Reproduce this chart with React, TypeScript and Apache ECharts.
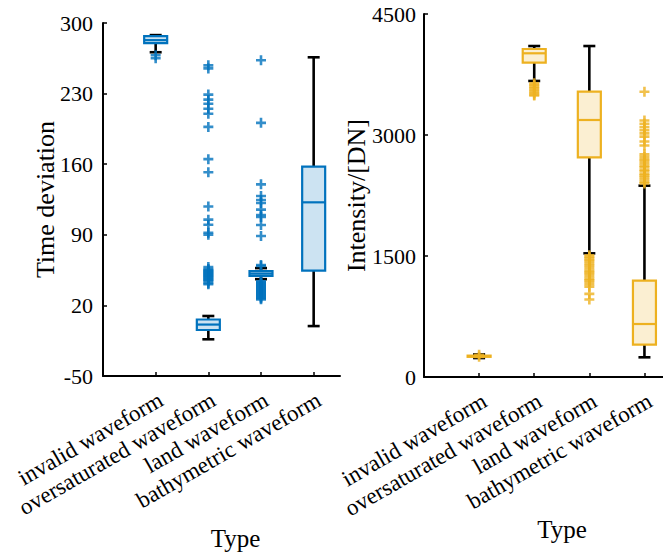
import React, { useEffect, useRef } from "react";
import * as echarts from "echarts";

const categories = ["invalid waveform", "oversaturated waveform", "land waveform", "bathymetric waveform"];
const timeTicks = [-50, 20, 90, 160, 230, 300];
const intensityTicks = [0, 1500, 3000, 4500];

// [min, Q1, median, Q3, max]
const timeStats = [
  [271, 280, 283, 287, 288],
  [-13.6, -4.4, 1, 6, 9.5],
  [46, 49.2, 51.5, 54, 57],
  [-0.5, 54.4, 122.2, 157.5, 266],
];
const intensityStats = [
  [235, 250, 258, 265, 280],
  [3670, 3897, 4013, 4066, 4103],
  [1533, 2723, 3186, 3537, 4103],
  [244, 401, 657, 1194, 2372],
];

const timeOutInvalid = [268, 265];
const timeOutOversat = [258, 255, 229, 224, 220, 215, 210, 197, 165, 152, 118, 105, 100, 92, 90, 58, 56, 55, 54, 53, 52, 51, 50, 49, 48, 47, 46, 45, 44, 42, 41];
const timeOutLand = [263, 201, 140, 128.5, 124.5, 121.5, 115, 109.6, 107.6, 99.7, 88.8, 60, 59, 44, 43, 42, 41, 40, 39, 38, 37, 36, 35, 34, 33, 32, 31, 30, 29, 28, 27, 26];
const timeOutBathy: number[] = [];

const intOutInvalid = [275, 250];
const intOutOversat = [3640, 3620, 3600, 3580, 3560, 3540, 3520, 3500, 3490];
const intOutLand = [1510, 1490, 1470, 1450, 1430, 1400, 1380, 1350, 1320, 1300, 1280, 1250, 1220, 1200, 1180, 1150, 1120, 1030, 960];
const intOutBathy = [3537, 3180, 3140, 3100, 3060, 3020, 2980, 2920, 2870, 2760, 2730, 2700, 2680, 2650, 2620, 2600, 2570, 2550, 2520, 2500, 2480, 2450, 2420, 2400];

const BLUE = "#0072BD";
const BLUE_FILL = "rgb(204,227,242)";
const YELLOW = "#EDB120";
const YELLOW_FILL = "rgb(251,239,210)";
const FONT = "'Liberation Serif', 'Times New Roman', serif";

const toOutlierData = (lists: number[][]) => {
  const out: number[][] = [];
  lists.forEach((l, i) => l.forEach((v) => out.push([i + 1, v])));
  return out;
};

const renderBox = (color: string, fill: string) => (params: any, api: any) => {
  const x = api.value(0);
  const mn = api.value(1), q1 = api.value(2), md = api.value(3), q3 = api.value(4), mx = api.value(5);
  const pMin = api.coord([x, mn]);
  const pQ1 = api.coord([x, q1]);
  const pMd = api.coord([x, md]);
  const pQ3 = api.coord([x, q3]);
  const pMax = api.coord([x, mx]);
  const cx = pMin[0];
  const bw = 23, cw = 12;
  const blk = { stroke: "#000", lineWidth: 2.6 };
  return {
    type: "group",
    children: [
      { type: "line", shape: { x1: cx, y1: pMax[1], x2: cx, y2: pQ3[1] }, style: blk },
      { type: "line", shape: { x1: cx, y1: pQ1[1], x2: cx, y2: pMin[1] }, style: blk },
      { type: "line", shape: { x1: cx - cw / 2, y1: pMax[1], x2: cx + cw / 2, y2: pMax[1] }, style: blk },
      { type: "line", shape: { x1: cx - cw / 2, y1: pMin[1], x2: cx + cw / 2, y2: pMin[1] }, style: blk },
      {
        type: "rect",
        shape: { x: cx - bw / 2, y: pQ3[1], width: bw, height: pQ1[1] - pQ3[1] },
        style: { fill, stroke: color, lineWidth: 2.2 },
      },
      { type: "line", shape: { x1: cx - bw / 2, y1: pMd[1], x2: cx + bw / 2, y2: pMd[1] }, style: { stroke: color, lineWidth: 2.2 } },
    ],
  };
};

const PLUS = "path://M0,5L10,5M5,0L5,10";

export default function App() {
  const ref = useRef<HTMLDivElement>(null);
  useEffect(() => {
    document.body.style.margin = "0";
    const chart = echarts.init(ref.current!, undefined, { renderer: "svg" });
    const xAxisCommon = (nameGap: number) => ({
      type: "value",
      min: 0,
      max: 4.5,
      name: "Type",
      nameLocation: "middle",
      nameGap,
      nameMoveOverlap: false,
      nameTextStyle: { fontFamily: FONT, fontSize: 25, color: "#000", padding: [0, 0, 0, 28] },
      axisLine: { onZero: false, lineStyle: { color: "#000", width: 2 } },
      axisTick: { inside: true, length: 4, customValues: [1, 2, 3, 4], lineStyle: { color: "#000", width: 1.5 } },
      axisLabel: {
        customValues: [1.1, 2.1, 3.1, 4.1],
        formatter: (v: number) => categories[Math.round(v) - 1] ?? "",
        rotate: 30,
        margin: 22,
        fontFamily: FONT,
        fontSize: 23,
        color: "#000",
      },
      splitLine: { show: false },
    });
    const yAxisCommon = (name: string, nameGap: number, min: number, max: number, ticks: number[], margin: number) => ({
      type: "value",
      min,
      max,
      name,
      nameLocation: "middle",
      nameGap,
      nameMoveOverlap: false,
      nameTextStyle: { fontFamily: FONT, fontSize: 26, color: "#000" },
      axisLine: { show: true, onZero: false, lineStyle: { color: "#000", width: 2 } },
      axisTick: { show: true, inside: true, length: 4, customValues: ticks, lineStyle: { color: "#000", width: 1.5 } },
      axisLabel: {
        customValues: ticks,
        formatter: (v: number) => String(v),
        margin,
        fontFamily: FONT,
        fontSize: 22,
        color: "#000",
      },
      splitLine: { show: false },
    });
    chart.setOption({
      animation: false,
      backgroundColor: "#fff",
      grid: [
        { left: 103, top: 23, width: 237, height: 353, outerBoundsMode: "none" },
        { left: 424, top: 14, width: 248, height: 363, outerBoundsMode: "none" },
      ],
      xAxis: [
        { ...xAxisCommon(150), gridIndex: 0 },
        { ...xAxisCommon(140), gridIndex: 1 },
      ],
      yAxis: [
        { ...yAxisCommon("Time deviation", 45, -50, 300, timeTicks, 10), gridIndex: 0 },
        { ...yAxisCommon("Intensity/[DN]", 55, 0, 4500, intensityTicks, 8), gridIndex: 1 },
      ],
      series: [
        {
          type: "custom",
          xAxisIndex: 0,
          yAxisIndex: 0,
          renderItem: renderBox(BLUE, BLUE_FILL),
          encode: { x: 0, y: [1, 2, 3, 4, 5] },
          data: timeStats.map((s, i) => [i + 1, ...s]),
          silent: true,
        },
        {
          type: "scatter",
          xAxisIndex: 0,
          yAxisIndex: 0,
          symbol: PLUS,
          symbolSize: 10,
          itemStyle: { color: "none", borderColor: BLUE, borderWidth: 2.6 },
          data: toOutlierData([timeOutInvalid, timeOutOversat, timeOutLand, timeOutBathy]),
          silent: true,
        },
        {
          type: "custom",
          xAxisIndex: 1,
          yAxisIndex: 1,
          renderItem: renderBox(YELLOW, YELLOW_FILL),
          encode: { x: 0, y: [1, 2, 3, 4, 5] },
          data: intensityStats.map((s, i) => [i + 1, ...s]),
          silent: true,
        },
        {
          type: "scatter",
          xAxisIndex: 1,
          yAxisIndex: 1,
          symbol: PLUS,
          symbolSize: 10,
          itemStyle: { color: "none", borderColor: YELLOW, borderWidth: 2.6 },
          data: toOutlierData([intOutInvalid, intOutOversat, intOutLand, intOutBathy]),
          silent: true,
        },
      ],
    });
    return () => chart.dispose();
  }, []);
  return <div ref={ref} style={{ width: 663, height: 558 }} />;
}
